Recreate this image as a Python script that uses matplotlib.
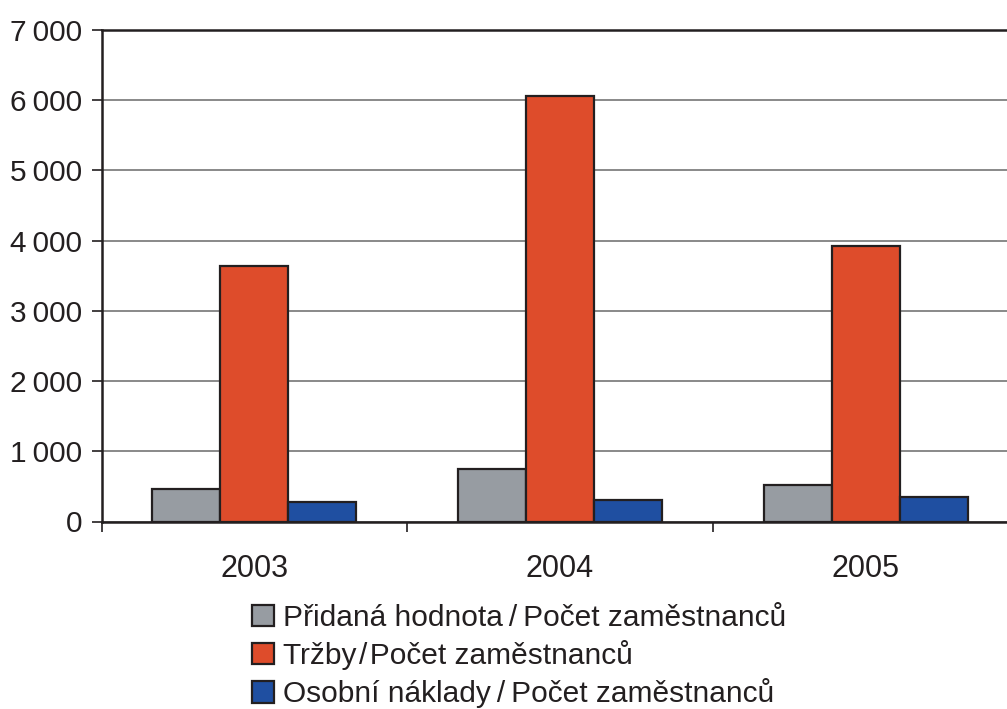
import matplotlib
matplotlib.use("Agg")
import matplotlib.pyplot as plt
import numpy as np
from matplotlib.ticker import FuncFormatter, FixedLocator

plt.rcParams['font.family'] = ['Liberation Sans', 'DejaVu Sans']

years = ["2003", "2004", "2005"]
series_names = ["Přidaná hodnota\u2009/\u2009Počet zaměstnanců",
                "Tržby\u200a/\u200aPočet zaměstnanců",
                "Osobní náklady\u2009/\u2009Počet zaměstnanců"]
pridana = [467, 744, 524]
trzby = [3640, 6061, 3929]
osobni = [273, 306, 345]
colors = ["#979CA2", "#DE4C2B", "#1F4FA1"]

W, H = 1007, 709
fig = plt.figure(figsize=(W / 100, H / 100), dpi=100)
left_px, right_px, top_px, base_px = 101.5, 1018.5, 30, 521.5
ax = fig.add_axes([left_px / W, (H - base_px) / H,
                   (right_px - left_px) / W, (base_px - top_px) / H])

x = np.arange(len(years))
bw = 0.2222
edge = "#231F20"
for i, (vals, name, c) in enumerate(zip([pridana, trzby, osobni], series_names, colors)):
    ax.bar(x + (i - 1) * bw, vals, width=bw, color=c, edgecolor=edge,
           linewidth=1.6, label=name, zorder=3)

ax.set_xlim(-0.5, 2.5)
ax.set_ylim(0, 7000)
ax.set_yticks(np.arange(0, 7001, 1000))
ax.yaxis.set_major_formatter(FuncFormatter(lambda v, p: f"{int(v):,}".replace(",", "\u2009")))
ax.grid(axis="y", color="#808080", linewidth=1.3, zorder=0)
ax.set_axisbelow(True)

ax.set_xticks(x)
ax.set_xticklabels(years)
ax.xaxis.set_minor_locator(FixedLocator([-0.5, 0.5, 1.5, 2.5]))
ax.tick_params(axis="x", which="major", length=0, pad=23.5, labelsize=22, colors="#231F20")
ax.tick_params(axis="x", which="minor", length=7.5, width=1.2, color="#231F20")
ax.tick_params(axis="y", length=7, width=1.2, pad=7, labelsize=21.5, colors="#231F20")

for s in ["left", "top", "bottom"]:
    ax.spines[s].set_color(edge)
    ax.spines[s].set_linewidth(1.8)
ax.spines["right"].set_visible(False)

fig.legend(loc="upper left", bbox_to_anchor=(252 / W, 1 - 604 / H), frameon=False,
           fontsize=21.5, handlelength=0.74, handleheight=0.74, handletextpad=0.3,
           labelspacing=0.27, borderaxespad=0, borderpad=0, labelcolor="#231F20")

fig.savefig("out.png", dpi=100)
